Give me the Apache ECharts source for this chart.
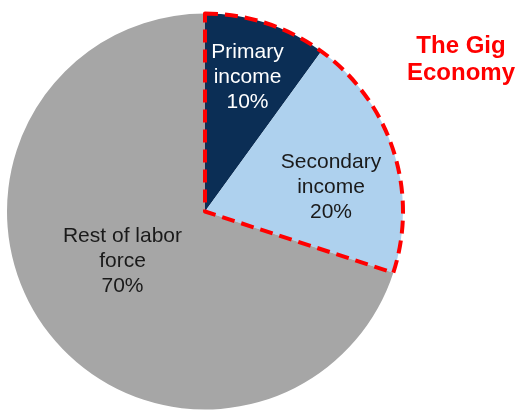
<!DOCTYPE html>
<html>
<head>
<meta charset="utf-8">
<script src="https://cdn.jsdelivr.net/npm/echarts@6/dist/echarts.min.js"></script>
<style>
html,body{margin:0;padding:0;background:#fff;}
#chart{width:516px;height:411px;}
</style>
</head>
<body>
<div id="chart"></div>
<script>
// Data
var categories = ['Primary income', 'Secondary income', 'Rest of labor force'];
var labelLines = ['Primary\nincome', 'Secondary\nincome', 'Rest of labor\nforce'];
var values = [10, 20, 70];
var gigParts = [0, 1]; // indices forming "The Gig Economy"
var titleText = 'The Gig\nEconomy';

var colors = ['#0b2e55', '#aed1ee', '#a6a6a6'];
var labelColors = ['#ffffff', '#1a1a1a', '#1a1a1a'];
var labelOffsets = [[11, -37], [29, 7], [0, -10]];

var total = values.reduce(function (a, b) { return a + b; }, 0);
var gig = gigParts.reduce(function (a, i) { return a + values[i]; }, 0);

var chart = echarts.init(document.getElementById('chart'));
var font = "'Liberation Sans', Arial, sans-serif";

chart.setOption({
  animation: false,
  backgroundColor: '#ffffff',
  title: {
    text: titleText,
    left: 456,
    top: 28,
    textAlign: 'center',
    textStyle: {
      color: '#ff0000',
      fontWeight: 'bold',
      fontSize: 24,
      fontFamily: font,
      lineHeight: 27
    }
  },
  series: [
    {
      type: 'pie',
      center: [205, 211.5],
      radius: [0, 198],
      startAngle: 90,
      clockwise: true,
      silent: true,
      data: categories.map(function (c, i) {
        return {
          name: c,
          value: values[i],
          itemStyle: { color: colors[i] },
          label: {
            color: labelColors[i],
            offset: labelOffsets[i],
            formatter: labelLines[i] + '\n' + Math.round(values[i] / total * 100) + '%'
          }
        };
      }),
      itemStyle: { borderWidth: 0 },
      label: {
        show: true,
        position: 'inside',
        fontSize: 21,
        lineHeight: 25,
        fontFamily: font,
        align: 'center'
      },
      labelLine: { show: false }
    },
    {
      type: 'pie',
      center: [205, 211.5],
      radius: [0, 198],
      startAngle: 90,
      clockwise: true,
      silent: true,
      z: 5,
      label: { show: false },
      labelLine: { show: false },
      data: [
        { value: gig, itemStyle: { color: 'rgba(0,0,0,0)', borderColor: '#ff0000', borderWidth: 4, borderType: [13, 7] } },
        { value: total - gig, itemStyle: { color: 'rgba(0,0,0,0)', borderWidth: 0 } }
      ]
    }
  ]
});
</script>
</body>
</html>
